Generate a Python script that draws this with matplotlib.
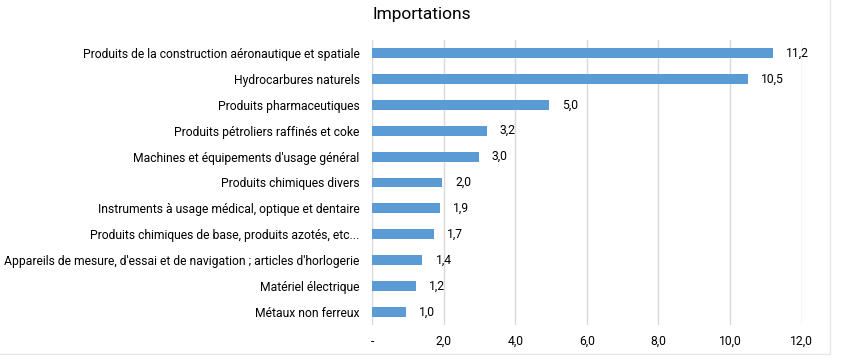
import matplotlib
matplotlib.use("Agg")
import matplotlib.pyplot as plt
from matplotlib.patches import Rectangle

categories = [
    "Produits de la construction aéronautique et spatiale",
    "Hydrocarbures naturels",
    "Produits pharmaceutiques",
    "Produits pétroliers raffinés et coke",
    "Machines et équipements d'usage général",
    "Produits chimiques divers",
    "Instruments à usage médical, optique et dentaire",
    "Produits chimiques de base, produits azotés, etc...",
    "Appareils de mesure, d'essai et de navigation ; articles d'horlogerie",
    "Matériel électrique",
    "Métaux non ferreux",
]
values = [11.2, 10.5, 4.95, 3.2, 2.98, 1.96, 1.9, 1.74, 1.41, 1.24, 0.96]
xticks = [0, 2, 4, 6, 8, 10, 12]
xticklabels = ["-", "2,0", "4,0", "6,0", "8,0", "10,0", "12,0"]
title = "Importations"

plt.rcParams['font.family'] = ['Roboto', 'DejaVu Sans']

fig = plt.figure(figsize=(8.43, 3.62), dpi=100)
ax = fig.add_axes([372 / 843, 1 - 325 / 362, (801.7 - 372) / 843, 285 / 362])

y = list(range(len(categories)))
ax.barh(y, values, height=0.38, color="#5B9BD5", zorder=3)
ax.set_ylim(len(categories) - 0.5, -0.5)
ax.set_xlim(0, 12)
ax.set_yticks(y)
ax.set_yticklabels(categories, fontsize=8.7, color="#000000")
ax.set_xticks(xticks)
ax.set_xticklabels(xticklabels, fontsize=8.7, color="#000000")
ax.tick_params(axis="both", length=0)
ax.tick_params(axis="y", pad=9)
ax.tick_params(axis="x", pad=7)
ax.grid(axis="x", color="#D9D9D9", linewidth=1, zorder=0)
for s in ax.spines.values():
    s.set_visible(False)

for yi, v in zip(y, values):
    ax.annotate(f"{v:.1f}".replace(".", ","), xy=(v, yi), xytext=(13, 0),
                textcoords="offset pixels",
                va="center", ha="left", fontsize=8.7, color="#000000")

fig.text(0.5, 1 - 15 / 362, title, ha="center", va="center", fontsize=12.5, color="#000000")

# faint chart-area border
fig.add_artist(Rectangle((-0.01, 1 - 354 / 362), 830 / 843 + 0.01, 354 / 362 + 0.01,
                         transform=fig.transFigure, fill=False, edgecolor="#E6E6E6", linewidth=1))

fig.savefig("out.png", dpi=100)
